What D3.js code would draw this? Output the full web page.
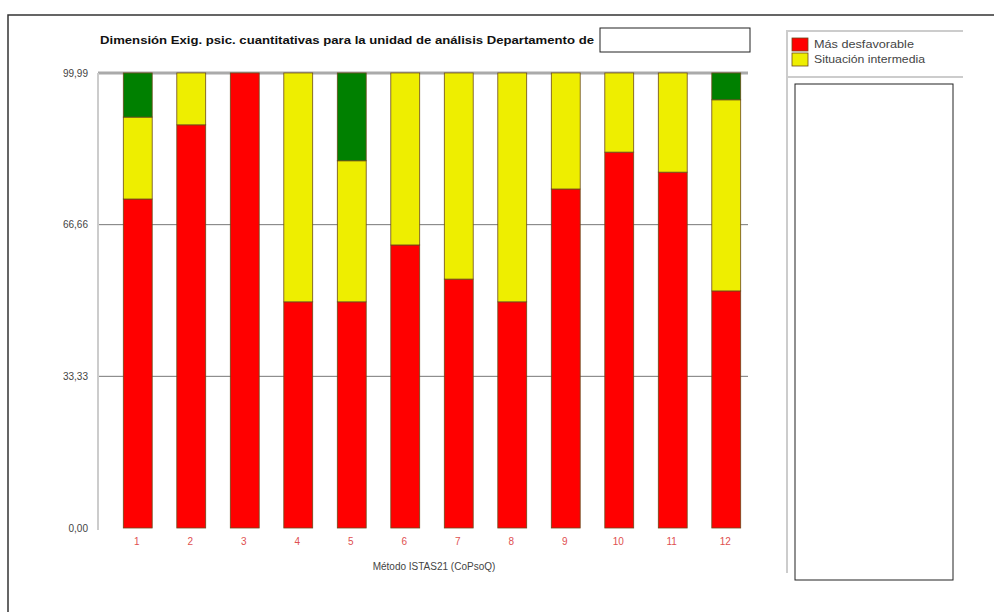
<!DOCTYPE html>
<html>
<head>
<meta charset="utf-8">
<script src="https://cdn.jsdelivr.net/npm/d3@7"></script>
<style>
    body { margin: 0; background: #fff; }
    text { font-family: "Liberation Sans", Arial, sans-serif; }
</style>
</head>
<body>
<div id="chart"></div>
<script>
// Data
const categories = ["1", "2", "3", "4", "5", "6", "7", "8", "9", "10", "11", "12"];
const masDesfavorable = [72.3, 88.6, 100, 49.7, 49.7, 62.2, 54.7, 49.7, 74.5, 82.6, 78.2, 52.1];
const situacionIntermedia = [18.0, 11.4, 0, 50.3, 31.0, 37.8, 45.3, 50.3, 25.5, 17.4, 21.8, 42.0];
const masFavorable = [9.7, 0, 0, 0, 19.3, 0, 0, 0, 0, 0, 0, 5.9];
const yTicks = [0, 33.33, 66.66, 99.99];
const legendNames = ["Más desfavorable", "Situación intermedia"];
const colors = ["#ff0000", "#eeee00", "#008000"];

const width = 994, height = 612;

const svg = d3.select("#chart")
    .append("svg")
        .attr("width", width)
        .attr("height", height);

// Outer frame (right and bottom edges run off the picture)
svg.append("path")
    .attr("d", `M8,${height + 2} V15 H${width + 2}`)
    .attr("fill", "none")
    .attr("stroke", "#333")
    .attr("stroke-width", 1.5);

// Scales
const xScale = d3.scaleBand()
    .domain(categories)
    .range([111, 753])
    .paddingInner(0.46)
    .paddingOuter(0.23);

const yScale = d3.scaleLinear()
    .domain([0, 99.99])
    .range([528, 73]);

// Gridlines
svg.append("g")
    .selectAll("line")
    .data(yTicks.filter(d => d > 0))
    .enter()
    .append("line")
        .attr("x1", 98)
        .attr("x2", 748)
        .attr("y1", d => yScale(d))
        .attr("y2", d => yScale(d))
        .attr("stroke", d => d === 99.99 ? "#aaa" : "#777")
        .attr("stroke-width", d => d === 99.99 ? 3 : 1);

// y axis line + labels
svg.append("line")
    .attr("x1", 98).attr("x2", 98)
    .attr("y1", yScale(99.99)).attr("y2", yScale(0) + 2)
    .attr("stroke", "#ccc")
    .attr("stroke-width", 2);

svg.append("g")
    .selectAll("text")
    .data(yTicks)
    .enter()
    .append("text")
        .attr("x", 88)
        .attr("y", d => yScale(d) + 3.5)
        .attr("text-anchor", "end")
        .attr("font-size", 10)
        .attr("fill", "#444")
        .text(d => d.toFixed(2).replace(".", ","));

// Stacked bars
const table = categories.map((c, i) => ({
    cat: c,
    s0: masDesfavorable[i],
    s1: situacionIntermedia[i],
    s2: masFavorable[i]
}));
const stacked = d3.stack().keys(["s0", "s1", "s2"])(table);

svg.append("g")
    .selectAll("g")
    .data(stacked)
    .enter()
    .append("g")
        .attr("fill", (d, i) => colors[i])
    .selectAll("rect")
    .data(d => d.filter(p => p[1] - p[0] > 0))
    .enter()
    .append("rect")
        .attr("x", d => xScale(d.data.cat))
        .attr("y", d => yScale(d[1]))
        .attr("width", xScale.bandwidth())
        .attr("height", d => yScale(d[0]) - yScale(d[1]))
        .attr("stroke", "#6b4a1a")
        .attr("stroke-width", 0.8);

// x labels
svg.append("g")
    .selectAll("text")
    .data(categories)
    .enter()
    .append("text")
        .attr("x", d => xScale(d) + xScale.bandwidth() / 2 - 1)
        .attr("y", 545)
        .attr("text-anchor", "middle")
        .attr("font-size", 10)
        .attr("fill", "#e05050")
        .text(d => d);

svg.append("text")
    .attr("x", 434)
    .attr("y", 570)
    .attr("text-anchor", "middle")
    .attr("font-size", 10)
    .attr("fill", "#444")
    .text("Método ISTAS21 (CoPsoQ)");

// Title + blank box
svg.append("text")
    .attr("x", 100)
    .attr("y", 44)
    .attr("font-size", 10)
    .attr("font-weight", "bold")
    .attr("fill", "#111")
    .attr("textLength", 494)
    .attr("lengthAdjust", "spacingAndGlyphs")
    .text("Dimensión Exig. psic. cuantitativas para la unidad de análisis Departamento de");

svg.append("rect")
    .attr("x", 600).attr("y", 28)
    .attr("width", 150).attr("height", 24)
    .attr("fill", "#fff")
    .attr("stroke", "#222")
    .attr("stroke-width", 1);

// Legend panel
const legend = svg.append("g");
legend.append("path")
    .attr("d", "M787,573 V31 H963")
    .attr("fill", "none")
    .attr("stroke", "#ccc")
    .attr("stroke-width", 2);
legend.append("line")
    .attr("x1", 787).attr("x2", 963)
    .attr("y1", 77).attr("y2", 77)
    .attr("stroke", "#ccc")
    .attr("stroke-width", 2);

legend.selectAll("rect")
    .data(legendNames)
    .enter()
    .append("rect")
        .attr("x", 792)
        .attr("y", (d, i) => 38 + i * 15)
        .attr("width", 16)
        .attr("height", 13)
        .attr("fill", (d, i) => colors[i])
        .attr("stroke", "#6b4a1a")
        .attr("stroke-width", 0.8);

legend.selectAll("text")
    .data(legendNames)
    .enter()
    .append("text")
        .attr("x", 814)
        .attr("y", (d, i) => 48 + i * 15)
        .attr("font-size", 10.5)
        .attr("fill", "#444")
        .attr("textLength", (d, i) => i === 0 ? 100 : 111)
        .attr("lengthAdjust", "spacingAndGlyphs")
        .text(d => d);

legend.append("rect")
    .attr("x", 795).attr("y", 84)
    .attr("width", 158).attr("height", 496)
    .attr("fill", "#fff")
    .attr("stroke", "#222")
    .attr("stroke-width", 1);
</script>
</body>
</html>
